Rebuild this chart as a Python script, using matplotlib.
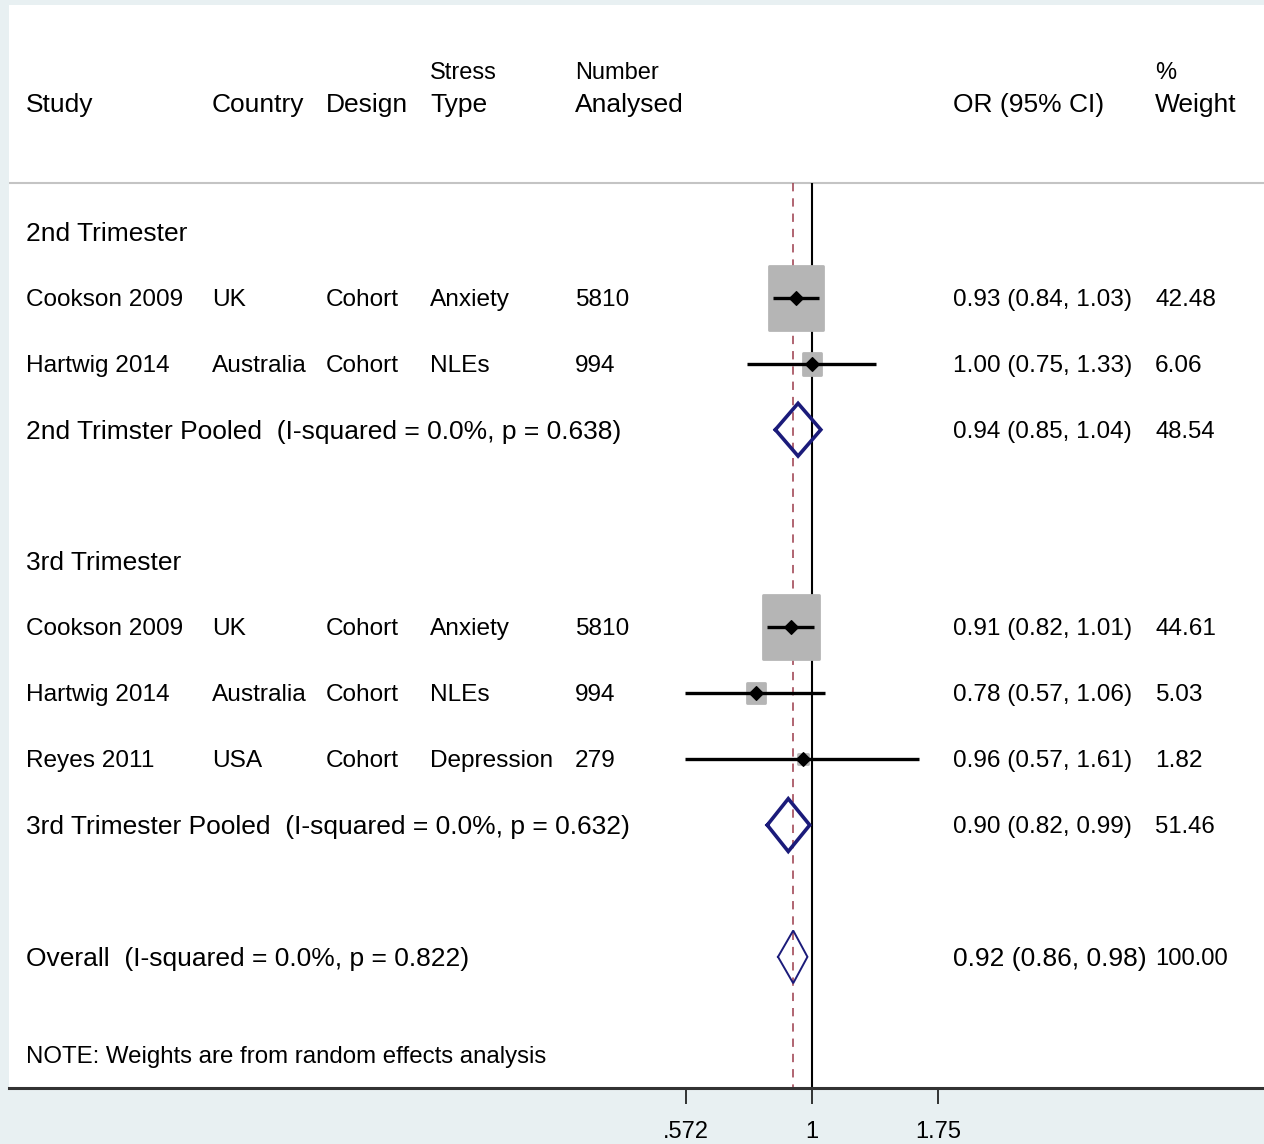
import matplotlib
matplotlib.use("Agg")
import matplotlib.pyplot as plt
import matplotlib.transforms as mtransforms
from matplotlib.path import Path
import numpy as np

plt.rcParams['font.family'] = ['Liberation Sans', 'DejaVu Sans']
plt.rcParams['lines.scale_dashes'] = False

# ---- study-level data ----
studies = ["Cookson 2009", "Hartwig 2014", "Cookson 2009", "Hartwig 2014", "Reyes 2011"]
countries = ["UK", "Australia", "UK", "Australia", "USA"]
designs = ["Cohort", "Cohort", "Cohort", "Cohort", "Cohort"]
stress_types = ["Anxiety", "NLEs", "Anxiety", "NLEs", "Depression"]
n_analysed = [5810, 994, 5810, 994, 279]
odds_ratio = [0.93, 1.00, 0.91, 0.78, 0.96]
ci_low = [0.84, 0.75, 0.82, 0.57, 0.57]
ci_high = [1.03, 1.33, 1.01, 1.06, 1.61]
weights = [42.48, 6.06, 44.61, 5.03, 1.82]
study_rows = [1, 2, 6, 7, 8]

# ---- subgroup headings ----
group_labels = ["2nd Trimester", "3rd Trimester"]
group_rows = [0, 5]

# ---- pooled estimates ----
pooled_names = ["2nd Trimster Pooled", "3rd Trimester Pooled", "Overall"]
pooled_or = [0.94, 0.90, 0.92]
pooled_low = [0.85, 0.82, 0.86]
pooled_high = [1.04, 0.99, 0.98]
pooled_weight = [48.54, 51.46, 100.00]
pooled_i2 = [0.0, 0.0, 0.0]
pooled_p = [0.638, 0.632, 0.822]
pooled_rows = [3, 9, 11]

tick_values = [0.572, 1.0, 1.75]
tick_labels = [".572", "1", "1.75"]

note_text = "NOTE: Weights are from random effects analysis"

# ---- figure layout ----
W, H = 1264, 1144
bg = "#e8f0f2"
fig = plt.figure(figsize=(W / 100, H / 100), dpi=100, facecolor=bg)
ax = fig.add_axes([9 / W, 1 - 1088 / H, 1 - 9 / W, (1088 - 5) / H])
ax.set_facecolor("white")
ax.set_xscale("log")
ax.set_xlim(0.02835, 7.431)
ax.set_ylim(12.99, -3.445)

for s in ("left", "right", "top"):
    ax.spines[s].set_visible(False)
ax.spines["bottom"].set_linewidth(2.2)
ax.spines["bottom"].set_color("#333333")
ax.set_yticks([])
ax.set_xticks(tick_values)
ax.set_xticklabels(tick_labels)
ax.xaxis.set_minor_locator(matplotlib.ticker.NullLocator())
ax.tick_params(axis="x", length=11.5, width=1.1, direction="out", pad=12.5,
               labelsize=17, colors="black")

# text placement: x in figure pixels, y in data rows
tr = mtransforms.blended_transform_factory(fig.transFigure, ax.transData)
def put(px, row, s, size=17.6, **kw):
    ax.text(px / W, row + 0.03, s, transform=tr, fontsize=size, va="center",
            ha="left", color="black", **kw)

col_study, col_country, col_design, col_stress = 26, 212, 326, 430
col_n, col_or, col_wt = 575, 953, 1155

# header
hdr_row, hdr_top = -1.96, -2.45
put(col_study, hdr_row, "Study", 19)
put(col_country, hdr_row, "Country", 19)
put(col_design, hdr_row, "Design", 19)
put(col_stress, hdr_top, "Stress", 17)
put(col_stress, hdr_row, "Type", 19)
put(col_n, hdr_top, "Number", 17)
put(col_n, hdr_row, "Analysed", 19)
put(col_or, hdr_row, "OR (95% CI)", 19)
put(col_wt, hdr_top, "%", 17)
put(col_wt, hdr_row, "Weight", 19)

sep_row = -0.744
ax.axhline(sep_row, color="#c4c4c4", lw=1.5, zorder=1)

# reference lines
ax.vlines(1.0, sep_row, 12.99, color="black", lw=1.5, zorder=2)
ax.vlines(pooled_or[2], sep_row, 12.99, color="#9b3b4a", lw=1.1,
          linestyles=(0, (6, 5)), zorder=2)

# subgroup headings
for lab, r in zip(group_labels, group_rows):
    put(col_study, r, lab, 19)

# study rows
box_path = Path([(-0.86, -1), (0.86, -1), (0.86, 1), (-0.86, 1), (-0.86, -1)],
                [Path.MOVETO, Path.LINETO, Path.LINETO, Path.LINETO, Path.CLOSEPOLY])
for i in range(len(studies)):
    r = study_rows[i]
    size_pt = 7.27 * np.sqrt(weights[i]) - 2.0
    ax.scatter([odds_ratio[i]], [r], s=size_pt ** 2, marker=box_path,
               color="#b5b5b5", edgecolor="#b5b5b5", linewidths=2.0,
               zorder=3)
    ax.plot([ci_low[i], ci_high[i]], [r, r], color="black", lw=2.4,
            solid_capstyle="butt", zorder=4)
    ax.plot([odds_ratio[i]], [r], marker="D", ms=7, color="black",
            mec="black", mew=0.8, zorder=5)
    put(col_study, r, studies[i])
    put(col_country, r, countries[i])
    put(col_design, r, designs[i])
    put(col_stress, r, stress_types[i])
    put(col_n, r, str(n_analysed[i]))
    put(col_or, r, f"{odds_ratio[i]:.2f} ({ci_low[i]:.2f}, {ci_high[i]:.2f})")
    put(col_wt, r, f"{weights[i]:.2f}")

# pooled diamonds
half_h = 0.4
for j in range(len(pooled_names)):
    r = pooled_rows[j]
    xs = [pooled_low[j], pooled_or[j], pooled_high[j], pooled_or[j], pooled_low[j]]
    ys = [r, r - half_h, r, r + half_h, r]
    lw = 2.6 if j < 2 else 1.4
    ax.plot(xs, ys, color="#1b1b7a", lw=lw, solid_joinstyle="miter", zorder=4)
    put(col_study, r,
        f"{pooled_names[j]}  (I-squared = {pooled_i2[j]:.1f}%, p = {pooled_p[j]:.3f})", 19)
    put(col_or, r, f"{pooled_or[j]:.2f} ({pooled_low[j]:.2f}, {pooled_high[j]:.2f})",
        19 if j == 2 else 17.6)
    put(col_wt, r, f"{pooled_weight[j]:.2f}", 17.2)

put(col_study, 12.49, note_text, 17.3)

fig.savefig("out.png", dpi=100, facecolor=bg)
